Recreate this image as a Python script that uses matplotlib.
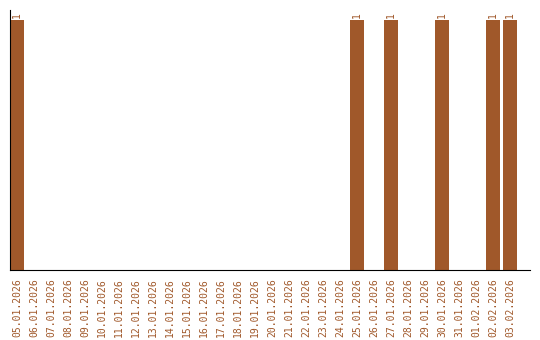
import matplotlib
matplotlib.use("Agg")
import matplotlib.pyplot as plt

dates = ["05.01.2026", "06.01.2026", "07.01.2026", "08.01.2026", "09.01.2026",
         "10.01.2026", "11.01.2026", "12.01.2026", "13.01.2026", "14.01.2026",
         "15.01.2026", "16.01.2026", "17.01.2026", "18.01.2026", "19.01.2026",
         "20.01.2026", "21.01.2026", "22.01.2026", "23.01.2026", "24.01.2026",
         "25.01.2026", "26.01.2026", "27.01.2026", "28.01.2026", "29.01.2026",
         "30.01.2026", "31.01.2026", "01.02.2026", "02.02.2026", "03.02.2026"]
values = [1, 0, 0, 0, 0, 0, 0, 0, 0, 0,
          0, 0, 0, 0, 0, 0, 0, 0, 0, 0,
          1, 0, 1, 0, 0, 1, 0, 0, 1, 1]

color = "#a0582a"
fig = plt.figure(figsize=(5.4, 3.4), dpi=100)
ax = fig.add_axes([10/540, 70/340, 520/540, 260/340])
x = list(range(len(dates)))
w = 14/17
ax.bar(x, values, width=w, color=color)
ax.set_xlim(-w/2, -w/2 + 520/17)
ax.set_ylim(0, 1.04)
for xi, v in zip(x, values):
    if v:
        ax.text(xi, v + 0.008, str(v), rotation=90, ha="center", va="bottom",
                fontsize=7, family="DejaVu Sans Mono", color=color)
ax.set_xticks(x)
ax.set_xticklabels(dates, rotation=90, fontsize=7, family="DejaVu Sans Mono", color=color)
ax.tick_params(axis="x", length=0, pad=6)
ax.set_yticks([])
ax.spines["top"].set_visible(False)
ax.spines["right"].set_visible(False)
ax.spines["left"].set_color("black")
ax.spines["bottom"].set_color("black")
fig.savefig("out.png", dpi=100)
